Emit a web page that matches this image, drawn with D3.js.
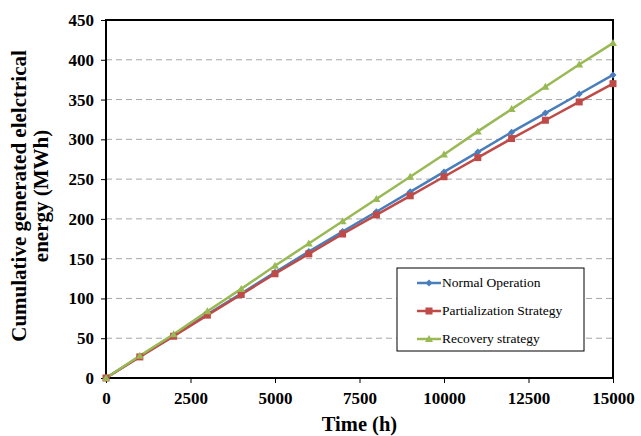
<!DOCTYPE html>
<html><head><meta charset="utf-8">
<script src="https://cdn.jsdelivr.net/npm/d3@7"></script>
<style>body{margin:0;background:#fff}</style>
</head><body><svg id="c" width="641" height="436"></svg>
<script>
const timeH = [0,1000,2000,3000,4000,5000,6000,7000,8000,9000,10000,11000,12000,13000,14000,15000];
const normalOp = [0,27,53,80,106,133,159,184,209,234,259,284,309,333,357,381];
const partialization = [0,26.5,52.5,79,105,131,156,181,205,229,253,277,301,324,347,370];
const recovery = [0,28,55,84,112,141,169,197,225,253,281,310,338,366,394,421];
const xTicks = [0,2500,5000,7500,10000,12500,15000];
const yTicks = [0,50,100,150,200,250,300,350,400,450];
const seriesNames = ["Normal Operation","Partialization Strategy","Recovery strategy"];
const colors = ["#4a7ebb","#be4b48","#98b954"];
const FF = '"Liberation Serif"';

const svg = d3.select("#c");
const L=106,R=613,T=20,B=378;
const x = d3.scaleLinear().domain([0,15000]).range([L,R]);
const y = d3.scaleLinear().domain([0,450]).range([B,T]);

// gridlines
svg.append("g").selectAll("line").data(yTicks.filter(d=>d>0&&d<450)).join("line")
  .attr("x1",L).attr("x2",R).attr("y1",d=>y(d)).attr("y2",d=>y(d))
  .attr("stroke","#a6a6a6").attr("stroke-width",1).attr("stroke-dasharray","6,4");

// axes
const yAxis = svg.append("g").attr("transform",`translate(${L},0)`)
  .call(d3.axisLeft(y).tickValues(yTicks).tickSize(5).tickPadding(7));
const xAxis = svg.append("g").attr("transform",`translate(0,${B})`)
  .call(d3.axisBottom(x).tickValues(xTicks).tickFormat(d3.format("d")).tickSize(5).tickPadding(9));
[yAxis,xAxis].forEach(a=>{
  a.select(".domain").remove();
  a.selectAll("line").attr("stroke","#000").attr("stroke-width",1);
  a.selectAll("text").style("font-family",FF).attr("font-weight","bold").attr("font-size",17).attr("fill","#000");
});
// frame
svg.append("rect").attr("x",L).attr("y",T).attr("width",R-L).attr("height",B-T)
  .attr("fill","none").attr("stroke","#000").attr("stroke-width",2);

const data = [normalOp,partialization,recovery];
const line = d3.line().x((d,i)=>x(timeH[i])).y(d=>y(d));
data.forEach((s,k)=>{
  svg.append("path").datum(s).attr("d",line).attr("fill","none")
    .attr("stroke",colors[k]).attr("stroke-width",2.5);
});
function marker(g,k,cx,cy){
  if(k===0){
    g.append("path").attr("d",`M${cx},${cy-3.5}L${cx+3.5},${cy}L${cx},${cy+3.5}L${cx-3.5},${cy}Z`).attr("fill",colors[k]);
  } else if(k===1){
    g.append("rect").attr("x",cx-3.5).attr("y",cy-3.5).attr("width",7).attr("height",7).attr("fill",colors[k]);
  } else {
    g.append("path").attr("d",`M${cx},${cy-4}L${cx+4},${cy+3}L${cx-4},${cy+3}Z`).attr("fill",colors[k]);
  }
}
const mg = svg.append("g");
data.forEach((s,k)=>s.forEach((v,i)=>marker(mg,k,x(timeH[i]),y(v))));

// legend
const lg = svg.append("g");
lg.append("rect").attr("x",397).attr("y",268).attr("width",187).attr("height",83)
  .attr("fill","#fff").attr("stroke","#000").attr("stroke-width",1);
seriesNames.forEach((n,k)=>{
  const cy = 283+k*28;
  lg.append("line").attr("x1",417).attr("x2",441).attr("y1",cy).attr("y2",cy)
    .attr("stroke",colors[k]).attr("stroke-width",2.5);
  marker(lg,k,429,cy);
  lg.append("text").attr("x",442).attr("y",cy+4).text(n)
    .style("font-family",FF).attr("font-size",13.5).attr("fill","#000");
});

// titles
svg.append("text").attr("x",(L+R)/2).attr("y",431).attr("text-anchor","middle")
  .style("font-family",FF).attr("font-weight","bold").attr("font-size",20.5).text("Time (h)");
const yt = svg.append("text").attr("transform","translate(26,196) rotate(-90)").attr("text-anchor","middle")
  .style("font-family",FF).attr("font-weight","bold").attr("font-size",21);
yt.append("tspan").attr("x",0).attr("y",0).text("Cumulative generated elelctrical");
yt.append("tspan").attr("x",0).attr("y",22).text("energy (MWh)");
</script></body></html>
